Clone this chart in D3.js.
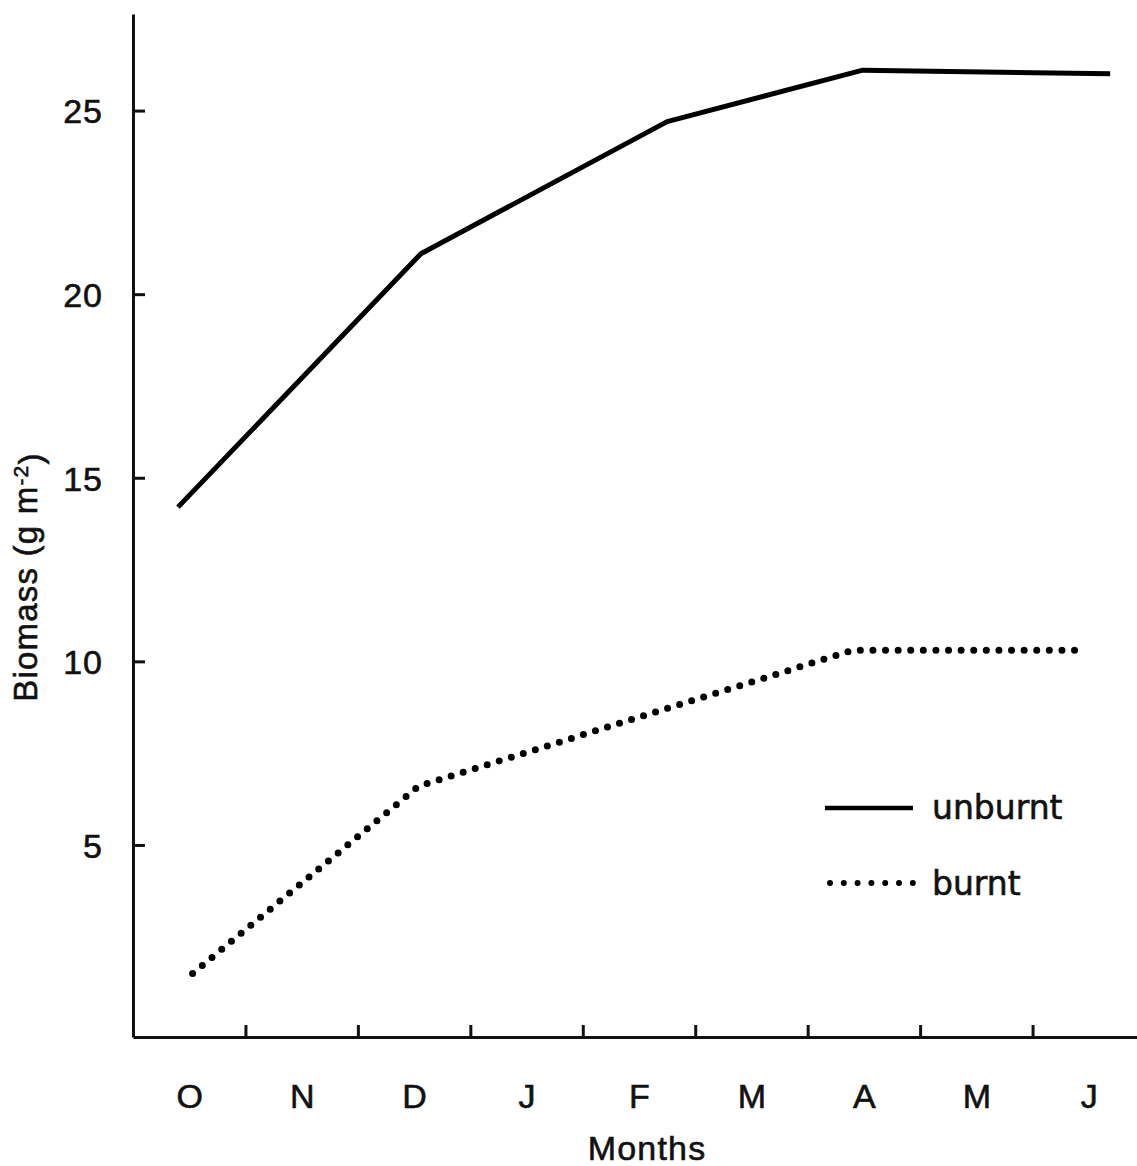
<!DOCTYPE html>
<html>
<head>
<meta charset="utf-8">
<script src="https://cdn.jsdelivr.net/npm/d3@7"></script>
<style>
  html, body { margin: 0; padding: 0; background: #fff; }
  svg { display: block; }
  text { fill: #111; stroke: #111; stroke-width: 0.6px; }
</style>
</head>
<body>
<svg id="chart" width="1137" height="1166"></svg>
<script>
// Month labels along the x axis (October to June)
const months = ["O", "N", "D", "J", "F", "M", "A", "M", "J"];

// Y axis tick values
const yTicks = [5, 10, 15, 20, 25];

// Unburnt plot: sampling position (month index, 0 = October) and biomass (g m-2)
const unburntMonth = [-0.10, 2.06, 4.25, 5.99, 8.19];
const unburntBiomass = [14.2, 21.1, 24.7, 26.1, 26.0];

// Burnt plot
const burntMonth = [0.03, 2.04, 5.90, 7.97];
const burntBiomass = [1.5, 6.6, 10.3, 10.3];

const svg = d3.select("#chart");

const x = d3.scaleLinear().domain([-0.5, 8.5]).range([133, 1145]);
const y = d3.scaleLinear().domain([-0.23, 27.63]).range([1037, 14]);

const axisFont = "'Liberation Sans', Arial, Helvetica, sans-serif";

// Y axis: ticks point inward
const yAxis = svg.append("g")
  .attr("transform", `translate(${x(-0.5)},0)`)
  .call(d3.axisRight(y).tickValues(yTicks).tickSize(12).tickSizeOuter(0).tickFormat(d3.format("d")));
yAxis.select(".domain").attr("stroke", "#111").attr("stroke-width", 3);
yAxis.selectAll(".tick line").attr("stroke", "#111").attr("stroke-width", 3);
yAxis.selectAll(".tick text")
  .attr("x", -30).attr("dy", "0.36em")
  .attr("text-anchor", "end")
  .style("font-family", axisFont).style("font-size", "34px").style("letter-spacing", "1px");

// X axis: boundary ticks between months, pointing inward
const xAxis = svg.append("g")
  .attr("transform", `translate(0,${y(-0.23)})`)
  .call(d3.axisTop(x).tickValues(d3.range(0.5, 8, 1)).tickSize(12).tickSizeOuter(0).tickFormat(""));
xAxis.select(".domain").attr("stroke", "#111").attr("stroke-width", 3);
xAxis.selectAll(".tick line").attr("stroke", "#111").attr("stroke-width", 3);

// Month labels centred within each month
const xLabels = svg.append("g")
  .attr("transform", `translate(0,${y(-0.23)})`)
  .call(d3.axisBottom(x).tickValues(d3.range(0, 9)).tickSize(0)
    .tickFormat((d, i) => months[i]));
xLabels.select(".domain").remove();
xLabels.selectAll(".tick text")
  .attr("y", 47)
  .style("font-family", axisFont).style("font-size", "34px");

// Axis titles
svg.append("text")
  .attr("x", 647).attr("y", 1160)
  .attr("text-anchor", "middle")
  .style("font-family", axisFont).style("font-size", "34px").style("letter-spacing", "1.2px")
  .text("Months");

const yTitle = svg.append("text")
  .attr("transform", "translate(37,577) rotate(-90)")
  .attr("text-anchor", "middle")
  .style("font-family", axisFont).style("font-size", "33px").style("letter-spacing", "1.2px");
yTitle.append("tspan").text("Biomass (g m");
yTitle.append("tspan").attr("dy", "-0.45em").style("font-size", "21px").text("-2");
yTitle.append("tspan").attr("dy", "0.45em").text(")");

// Lines
const line = d3.line().x(d => x(d[0])).y(d => y(d[1]));

svg.append("path")
  .datum(d3.zip(unburntMonth, unburntBiomass))
  .attr("d", line)
  .attr("fill", "none")
  .attr("stroke", "#000")
  .attr("stroke-width", 5)
  .attr("stroke-linejoin", "round");

svg.append("path")
  .datum(d3.zip(burntMonth, burntBiomass))
  .attr("d", line)
  .attr("fill", "none")
  .attr("stroke", "#000")
  .attr("stroke-width", 7)
  .attr("stroke-linecap", "round")
  .attr("stroke-dasharray", "0 12.6");

// Legend
const legendFont = "'DejaVu Sans', Verdana, sans-serif";
const legend = svg.append("g");
legend.append("line")
  .attr("x1", 825).attr("x2", 913).attr("y1", 808).attr("y2", 808)
  .attr("stroke", "#000").attr("stroke-width", 4.5);
legend.append("text")
  .attr("x", 932).attr("y", 819)
  .style("font-family", legendFont).style("font-size", "33px")
  .text("unburnt");
legend.append("line")
  .attr("x1", 830).attr("x2", 913).attr("y1", 883).attr("y2", 883)
  .attr("stroke", "#000").attr("stroke-width", 6)
  .attr("stroke-linecap", "round")
  .attr("stroke-dasharray", "0 13.8");
legend.append("text")
  .attr("x", 932).attr("y", 895)
  .style("font-family", legendFont).style("font-size", "33px")
  .text("burnt");
</script>
</body>
</html>
